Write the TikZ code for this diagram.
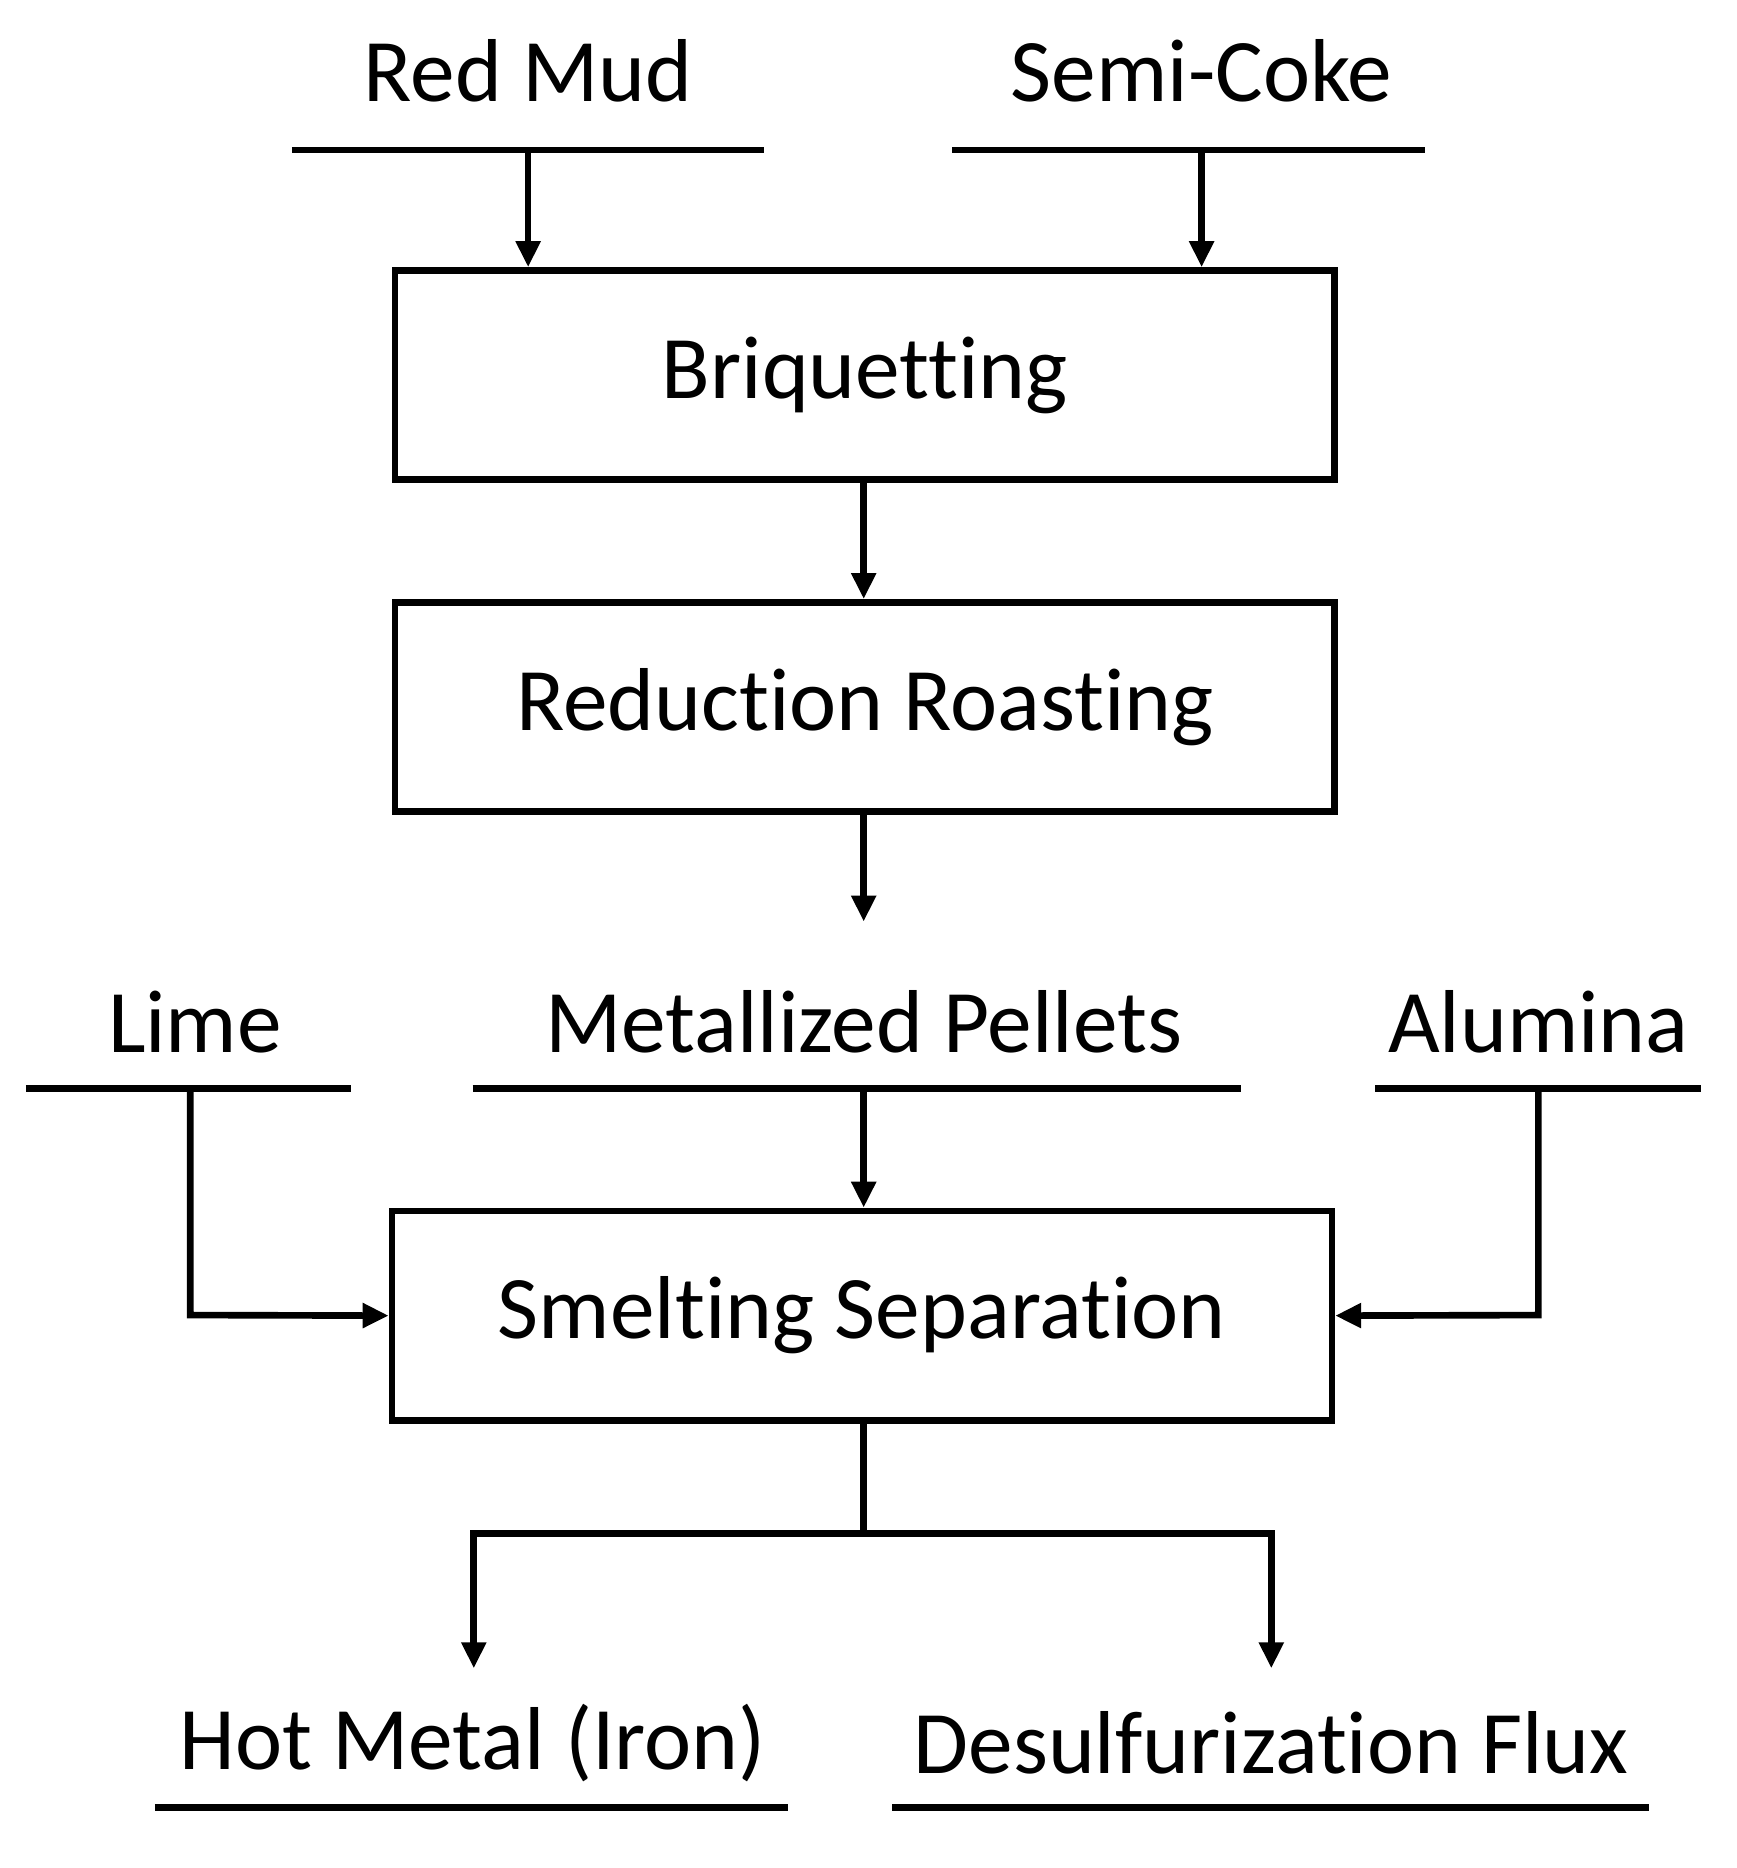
\documentclass[tikz,border=0pt]{standalone}
\usepackage{fontspec}
\setmainfont{Carlito}[Ligatures=NoCommon]
\usetikzlibrary{arrows.meta}
\begin{document}
\begin{tikzpicture}[x=0.01cm,y=-0.01cm,
  ln/.style={line width=1.6pt},
  ar/.style={ln,-{Triangle[length=0.22cm,width=0.2cm]}},
  box/.style={draw,line width=1.6pt,minimum width=7.95cm,minimum height=1.77cm,inner sep=0pt},
  lbl/.style={font=\fontsize{21.5}{25}\selectfont,inner sep=0pt}]
\useasboundingbox (0,0) rectangle (1470,1581);
\node[lbl] (rm) at (447,60) {Red Mud};
\node[lbl] (sc) at (1017,60) {Semi-Coke};
\coordinate (rmL) at (247,127); \coordinate (rmR) at (647,127);
\coordinate (scL) at (806,127); \coordinate (scR) at (1206,127);
\draw[ln] (rmL) -- (rmR); \draw[ln] (scL) -- (scR);
\node[box] (bq) at (732,317.5) {};
\node[lbl] at (bq) {Briquetting};
\node[box] (rr) at (732,598.5) {};
\node[lbl] at (rr) {Reduction Roasting};
\node[box] (ss) at (729.5,1113.5) {};
\node[lbl] at (ss) {Smelting Separation};
\coordinate (rmA) at (447,127); \coordinate (scA) at (1017,127);
\draw[ar] (rmA) -- (rmA |- bq.north);
\draw[ar] (scA) -- (scA |- bq.north);
\draw[ar] (bq.south -| 731,0) -- (731,507);
\coordinate (rrOut) at (731,780);
\draw[ar] (rr.south -| 731,0) -- (rrOut);
\node[lbl] (mp) at (731,865) {Metallized Pellets};
\node[lbl] (li) at (165,865) {Lime};
\node[lbl] (al) at (1302,865) {Alumina};
\draw[ln] (400,921) -- (1050,921);
\draw[ln] (22,921) -- (297,921);
\draw[ln] (1164,921) -- (1440,921);
\coordinate (liA) at (161,921); \coordinate (alA) at (1302,921); \coordinate (mpA) at (731,921);
\draw[ar] (liA) -- (161,1113) -- (ss.west);
\draw[ar] (alA) -- (1302,1113) -- (ss.east);
\draw[ar] (mpA) -- (mpA |- ss.north);
\coordinate (sp) at (731,1298);
\coordinate (hmA) at (401,1412); \coordinate (dfA) at (1076,1412);
\draw[ln] (ss.south -| sp) -- (sp);
\draw[ar] (sp) -- (401,1298) -- (hmA);
\draw[ar] (sp) -- (1076,1298) -- (dfA);
\node[lbl] (hm) at (400,1475) {Hot Metal (Iron)};
\node[lbl] (df) at (1076,1475) {Desulfurization Flux};
\draw[ln] (131,1530) -- (667,1530);
\draw[ln] (755,1530) -- (1396,1530);
\end{tikzpicture}
\end{document}
